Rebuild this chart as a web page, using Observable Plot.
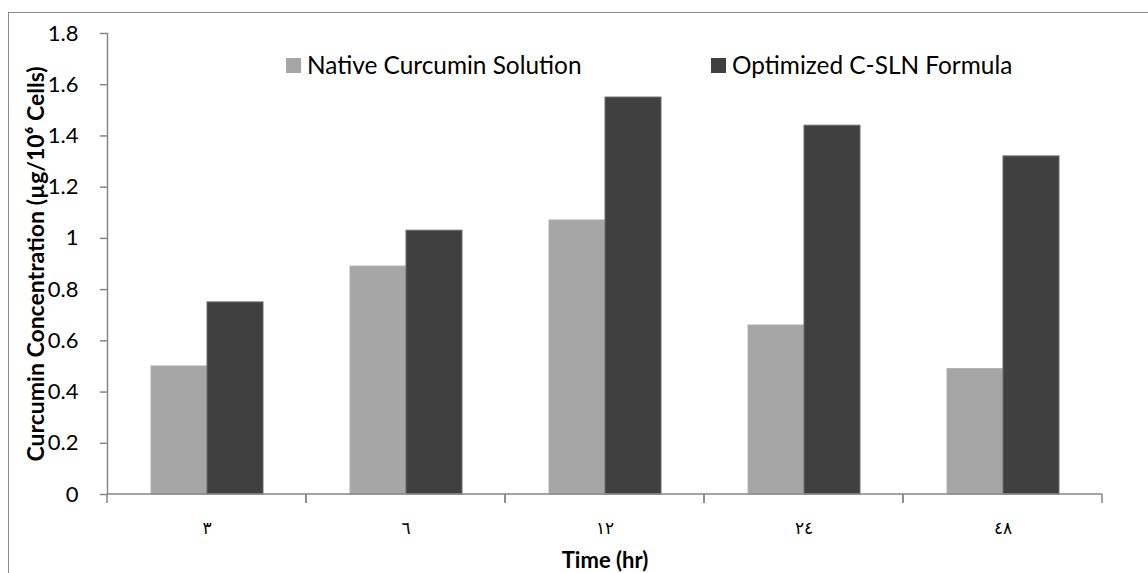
<!DOCTYPE html>
<html><head><meta charset="utf-8">
<script src="https://cdn.jsdelivr.net/npm/d3@7"></script>
<script src="https://cdn.jsdelivr.net/npm/@observablehq/plot@0.6"></script>
<style>
body{margin:0;background:#fff;}
#wrap{position:relative;width:1148px;height:573px;overflow:hidden;font-family:Lato,"DejaVu Sans",sans-serif;}
#border{position:absolute;left:8px;top:12px;width:1300px;height:800px;border-left:1px solid #8a8a8a;border-top:1px solid #8a8a8a;box-sizing:border-box;}
#chart{position:absolute;left:0;top:0;}
.lg{position:absolute;top:53px;font-size:24.4px;line-height:24px;color:#000;white-space:nowrap;display:flex;align-items:center;}
.sw{display:inline-block;width:15px;height:15px;margin-right:6px;}
</style></head>
<body><div id="wrap"><div id="border"></div><div id="chart"></div>
<div class="lg" style="left:286px"><span class="sw" style="background:#a6a6a6"></span>Native Curcumin Solution</div>
<div class="lg" style="left:711px"><span class="sw" style="background:#404040"></span>Optimized C-SLN Formula</div>
</div>
<script>
const times = ["٣", "٦", "١٢", "٢٤", "٤٨"];
const seriesNames = ["Native Curcumin Solution", "Optimized C-SLN Formula"];
const nativeValues = [0.5, 0.89, 1.07, 0.66, 0.49];
const optimizedValues = [0.75, 1.03, 1.55, 1.44, 1.32];
const yTicks = [0, 0.2, 0.4, 0.6, 0.8, 1, 1.2, 1.4, 1.6, 1.8];
const yTickLabels = ["0", "0.2", "0.4", "0.6", "0.8", "1", "1.2", "1.4", "1.6", "1.8"];
const colors = ["#a6a6a6", "#404040"];
const xTitle = "Time (hr)";
const yTitle = "Curcumin Concentration (µg/10⁶ Cells)";

const data = times.flatMap((t, i) => [
  {time: t, series: seriesNames[0], value: nativeValues[i]},
  {time: t, series: seriesNames[1], value: optimizedValues[i]}
]);

const axisColor = "#868686";

const baseline = (index, scales, values, dims) => {
  const y0 = scales.y(0);
  const w = dims.width - dims.marginLeft - dims.marginRight;
  const x0 = dims.marginLeft;
  const g = d3.create("svg:g");
  g.append("path")
    .attr("d", `M${x0},${y0}H${x0 + w}M${x0},${y0}V${y0 + 9}M${x0 + w},${y0}V${y0 + 9}`)
    .attr("stroke", axisColor).attr("stroke-width", 1.5).attr("fill", "none");
  return g.node();
};

const chart = Plot.plot({
  width: 1148,
  height: 573,
  marginLeft: 105,
  marginRight: 45,
  marginTop: 33,
  marginBottom: 79,
  style: {fontFamily: 'Lato,"DejaVu Sans",sans-serif', fontSize: "22px", color: "#000", background: "transparent", overflow: "visible"},
  fx: {domain: times, padding: 0, label: null},
  x: {domain: seriesNames, paddingInner: 0, paddingOuter: 0.75, axis: null},
  y: {domain: [0, 1.8], axis: null},
  color: {domain: seriesNames, range: colors},
  marks: [
    Plot.barY(data, {fx: "time", x: "series", y: "value", fill: "series", stroke: d => d.series === seriesNames[1] ? "#6a6a6a" : "#b0b0b0", strokeWidth: 1}),
    baseline,
    Plot.frame({anchor: "left", facetAnchor: "left", stroke: axisColor, strokeWidth: 1.5}),
    Plot.axisY({ticks: yTicks, tickFormat: (d, i) => yTickLabels[i], tickSize: 7, tickPadding: 22, stroke: axisColor, strokeWidth: 1.5, fill: "#000",
      label: yTitle, labelAnchor: "center", labelOffset: 80, labelArrow: "none"}),
    Plot.axisFx({anchor: "bottom", tickSize: 0, tickPadding: 27, label: xTitle, labelAnchor: "center", labelOffset: 73, labelArrow: "none", fontFamily: '"DejaVu Sans",sans-serif', fontSize: "17px"})
  ]
});
document.getElementById("chart").appendChild(chart);
// bold axis titles
chart.querySelectorAll("text").forEach(t => {
  const s = t.textContent;
  if (s.startsWith("Curcumin") || s.startsWith("Time")) {
    const isX = s.startsWith("Time");
    t.textContent = isX ? xTitle : yTitle;
    t.setAttribute("font-weight", "bold");
    t.setAttribute("font-size", isX ? "22px" : "23px");
    t.setAttribute("font-family", "Lato,sans-serif");
  }
});
</script>
</body></html>
